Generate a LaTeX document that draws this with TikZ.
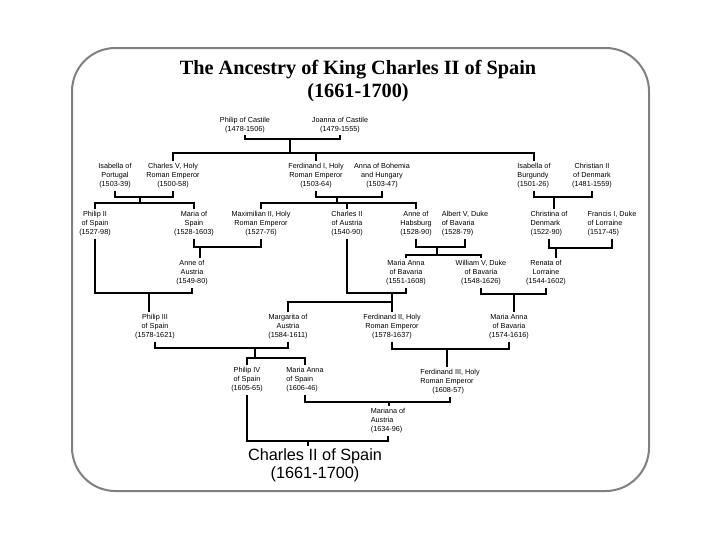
\documentclass[tikz,border=0pt]{standalone}
\usepackage{fontspec}
\setmainfont{Liberation Sans}
\newfontfamily\titlefont{Liberation Serif}
\usepackage{tikz}
\definecolor{framegray}{RGB}{128,128,128}

\begin{document}
\begin{tikzpicture}[
  x=0.3mm, y=-0.3mm,
  person/.style={align=center, inner sep=0.6mm, font=\fontsize{6.2}{7.7}\selectfont},
  lperson/.style={person, align=left},
  link/.style={line width=0.55mm},
  frame/.style={draw=framegray, line width=0.6mm, rounded corners=13mm}
]
  \fill[white] (0,0) rectangle (720,540);
  \useasboundingbox (0,0) rectangle (720,540);
  \draw[frame] (72,48) rectangle (649,491);

  \node[align=center, font=\titlefont\bfseries\fontsize{17.3}{19.6}\selectfont] (title) at (358,81) {The Ancestry of King Charles II of Spain\\(1661-1700)};

  \node[person] (philipc) at (245,125) {Philip of Castile\\(1478-1506)};
  \node[person] (joanna) at (340,125) {Joanna of Castile\\(1479-1555)};

  \node[person] (isabp) at (115,176) {Isabella of\\Portugal\\(1503-39)};
  \node[person] (charlesv) at (173,176) {Charles V, Holy\\Roman Emperor\\(1500-58)};
  \node[person] (ferdi) at (316,176) {Ferdinand I, Holy\\Roman Emperor\\(1503-64)};
  \node[person] (annab) at (382,176) {Anna of Bohemia\\and Hungary\\(1503-47)};
  \node[lperson] (isabb) at (534,176) {Isabella of\\Burgundy\\(1501-26)};
  \node[person] (christian) at (592,176) {Christian II\\of Denmark\\(1481-1559)};

  \node[person] (philipii) at (95,224) {Philip II\\of Spain\\(1527-98)};
  \node[person] (mariasp) at (194,224) {Maria of\\Spain\\(1528-1603)};
  \node[person] (maxii) at (261,224) {Maximilian II, Holy\\Roman Emperor\\(1527-76)};
  \node[person] (charlesat) at (347,224) {Charles II\\of Austria\\(1540-90)};
  \node[person] (anneh) at (416,224) {Anne of\\Habsburg\\(1528-90)};
  \node[lperson] (albert) at (465,224) {Albert V, Duke\\of Bavaria\\(1528-79)};
  \node[lperson] (christina) at (549,224) {Christina of\\Denmark\\(1522-90)};
  \node[lperson] (francis) at (612,224) {Francis I, Duke\\of Lorraine\\(1517-45)};

  \node[person] (anneat) at (192,273) {Anne of\\Austria\\(1549-80)};
  \node[person] (mariaab) at (406,273) {Maria Anna\\of Bavaria\\(1551-1608)};
  \node[person] (william) at (481,273) {William V, Duke\\of Bavaria\\(1548-1626)};
  \node[person] (renata) at (546,273) {Renata of\\Lorraine\\(1544-1602)};

  \node[person] (philipiii) at (155,327) {Philip III\\of Spain\\(1578-1621)};
  \node[person] (margarita) at (288,327) {Margarita of\\Austria\\(1584-1611)};
  \node[person] (ferdii) at (392,327) {Ferdinand II, Holy\\Roman Emperor\\(1578-1637)};
  \node[person] (mariaac) at (509,327) {Maria Anna\\of Bavaria\\(1574-1616)};

  \node[person] (philipiv) at (247,380) {Philip IV\\of Spain\\(1605-65)};
  \node[lperson] (mariaspb) at (305,380) {Maria Anna\\of Spain\\(1606-46)};
  \node[lperson] (ferdiii) at (450,382) {Ferdinand III, Holy\\Roman Emperor\\\ \ \ \ \ \ (1608-57)};
  \node[lperson] (mariana) at (388,421) {Mariana of\\Austria\\(1634-96)};

  \node[align=center, inner sep=0.6mm, font=\fontsize{13.9}{15.4}\selectfont] (charlesii) at (315,465) {Charles II of Spain\\(1661-1700)};

  \coordinate (m1) at (290,139);  \coordinate (k1) at (290,153);
  \coordinate (m2) at (140,197);  \coordinate (k2) at (140,203);
  \coordinate (m3) at (337,197);  \coordinate (k3) at (337,203);
  \coordinate (m4) at (554,197);
  \coordinate (m5) at (200,247);
  \coordinate (m6) at (437,247);  \coordinate (k6) at (437,255);
  \coordinate (m7) at (556,248);
  \coordinate (m8) at (149,293);
  \coordinate (m9) at (392,293);  \coordinate (k9) at (392,302);
  \coordinate (m10) at (514,294);
  \coordinate (m11) at (255,348); \coordinate (k11) at (255,358);
  \coordinate (m12) at (447,349);
  \coordinate (m13) at (389,402);
  \coordinate (m14) at (308,441);

  \draw[link] (philipc) |- (m1) -| (joanna);
  \draw[link] (m1) -- (k1);
  \draw[link] (charlesv) |- (k1) -| (isabb);
  \draw[link] (k1 -| ferdi) -- (ferdi);

  \draw[link] (isabp) |- (m2) -| (charlesv);
  \draw[link] (m2) -- (k2);
  \draw[link] (philipii) |- (k2) -| (mariasp);

  \draw[link] (ferdi) |- (m3) -| (annab);
  \draw[link] (m3) -- (k3);
  \draw[link] (maxii) |- (k3) -| (anneh);
  \draw[link] (k3 -| charlesat) -- (charlesat);

  \draw[link] (isabb) |- (m4) -| (christian);
  \draw[link] (m4) -- (m4 |- christina.north);

  \draw[link] (mariasp) |- (m5) -| (maxii);
  \draw[link] (m5) -- (m5 |- anneat.north);

  \draw[link] (anneh) |- (m6) -| (albert);
  \draw[link] (m6) -- (k6);
  \draw[link] (mariaab) |- (k6) -| (william);

  \draw[link] (christina) |- (m7) -| (francis);
  \draw[link] (m7) -- (m7 |- renata.north);

  \draw[link] (philipii) |- (m8) -| (anneat);
  \draw[link] (m8) -- (m8 |- philipiii.north);

  \draw[link] (charlesat) |- (m9) -| (mariaab);
  \draw[link] (m9) -- (ferdii);
  \draw[link] (margarita) |- (k9);

  \draw[link] (william) |- (m10) -| (renata);
  \draw[link] (m10) -- (m10 |- mariaac.north);

  \draw[link] (philipiii) |- (m11) -| (margarita);
  \draw[link] (m11) -- (k11);
  \draw[link] (philipiv) |- (k11) -| (mariaspb);

  \draw[link] (ferdii) |- (m12) -| (mariaac);
  \draw[link] (m12) -- (m12 |- ferdiii.north);

  \draw[link] (mariaspb) |- (m13) -| (ferdiii);
  \draw[link] (m13) -- (m13 |- mariana.north);

  \draw[link] (philipiv) |- (m14) -| (mariana);
  \draw[link] (m14) -- (m14 |- charlesii.north);
\end{tikzpicture}
\end{document}
